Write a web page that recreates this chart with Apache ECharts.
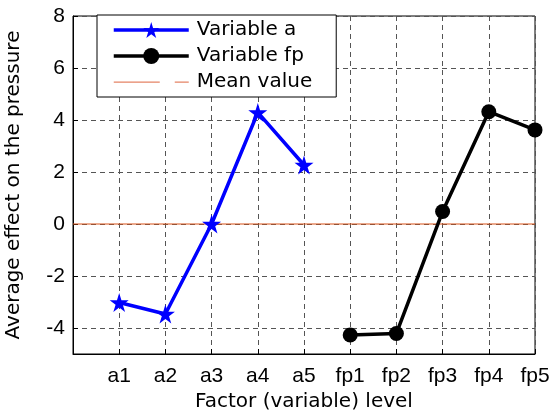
<!DOCTYPE html>
<html>
<head>
<meta charset="utf-8">
<script src="https://cdn.jsdelivr.net/npm/echarts@6/dist/echarts.min.js"></script>
<style>
  html, body { margin: 0; padding: 0; background: #fff; }
  #chart { width: 553px; height: 414px; }
</style>
</head>
<body>
<div id="chart"></div>
<script>
// factor levels along the x axis (position 1..10)
const levels = ['a1', 'a2', 'a3', 'a4', 'a5', 'fp1', 'fp2', 'fp3', 'fp4', 'fp5'];
const aValues = [-3.02, -3.46, 0.0, 4.29, 2.27];
const fpValues = [-4.27, -4.21, 0.48, 4.32, 3.62];
const meanValue = 0;
const yTicks = [-4, -2, 0, 2, 4, 6, 8];

const starPath = 'path://M50,0L61.17,34.63L97.55,34.55L68.07,55.87L79.39,90.45L50,69L20.61,90.45L31.93,55.87L2.45,34.55L38.83,34.63Z';
// broken line icon for the mean value legend entry (tiny corner dots keep the box 75x20)
const meanIcon = 'path://M0,0L0.01,0L0.01,0.01ZM75,20L74.99,20L74.99,19.99Z' +
    'M0,9.5L46,9.5L46,10.7L0,10.7ZM61,9.5L75,9.5L75,10.7L61,10.7Z';
const tickFont = 'Liberation Sans';
const textFont = 'DejaVu Sans';

const aData = aValues.map((v, i) => [i + 1, v]);
const fpData = fpValues.map((v, i) => [i + 6, v]);
const meanData = [[0, meanValue], [levels.length, meanValue]];

var chart = echarts.init(document.getElementById('chart'));

var option = {
    animation: false,
    backgroundColor: '#fff',
    grid: {
        left: 73,
        top: 16,
        right: 18,
        bottom: 60,
        containLabel: false,
        outerBoundsMode: 'none',
        show: true,
        borderColor: '#000',
        borderWidth: 1
    },
    legend: {
        left: 97,
        top: 15,
        orient: 'vertical',
        data: [
            { name: 'Variable a', lineStyle: { width: 3.5 } },
            { name: 'Variable fp', lineStyle: { width: 3.5 } },
            { name: 'Mean value', icon: meanIcon, itemStyle: { color: '#e58466' } }
        ],
        itemWidth: 75,
        itemHeight: 20,
        itemGap: 6,
        padding: [5, 24, 5, 15],
        backgroundColor: '#fff',
        borderColor: '#000',
        borderWidth: 1,
        borderRadius: 0,
        textStyle: {
            fontFamily: textFont,
            fontSize: 20,
            color: '#000',
            padding: [0, 0, 0, 3]
        }
    },
    xAxis: {
        type: 'value',
        min: 0,
        max: levels.length,
        interval: 1,
        name: 'Factor (variable) level',
        nameLocation: 'middle',
        nameGap: 38,
        nameTextStyle: { fontFamily: textFont, fontSize: 20, color: '#000' },
        axisLine: { show: true, onZero: false, lineStyle: { color: '#000', width: 1 } },
        axisTick: { show: true, inside: true, length: 5, lineStyle: { color: '#000' } },
        axisLabel: {
            fontFamily: tickFont,
            fontSize: 21,
            color: '#000',
            margin: 12,
            formatter: v => levels[v - 1] || ''
        },
        splitLine: {
            show: true,
            lineStyle: { color: '#555', type: [5, 4], width: 1 }
        }
    },
    yAxis: {
        type: 'value',
        min: -5,
        max: 8,
        interval: 2,
        name: 'Average effect on the pressure',
        nameLocation: 'middle',
        nameGap: 49,
        nameTextStyle: { fontFamily: textFont, fontSize: 20, color: '#000' },
        axisLine: { show: true, lineStyle: { color: '#000', width: 1 } },
        axisLabel: {
            fontFamily: tickFont,
            fontSize: 21,
            color: '#000',
            margin: 8,
            customValues: yTicks
        },
        axisTick: { show: true, inside: true, length: 5, customValues: yTicks, lineStyle: { color: '#000' } },
        splitLine: {
            show: true,
            lineStyle: { color: '#555', type: [5, 4], width: 1 }
        }
    },
    series: [
        {
            name: 'Mean value',
            type: 'line',
            data: meanData,
            symbol: 'none',
            lineStyle: { color: '#d95319', width: 1 },
            itemStyle: { color: '#d95319' },
            z: 2
        },
        {
            name: 'Variable a',
            type: 'line',
            data: aData,
            symbol: starPath,
            symbolSize: 19,
            lineStyle: { color: '#0000ff', width: 3.5 },
            itemStyle: { color: '#0000ff' },
            z: 3
        },
        {
            name: 'Variable fp',
            type: 'line',
            data: fpData,
            symbol: 'circle',
            symbolSize: 15,
            lineStyle: { color: '#000', width: 3.5 },
            itemStyle: { color: '#000' },
            z: 3
        }
    ]
};

chart.setOption(option);
</script>
</body>
</html>
